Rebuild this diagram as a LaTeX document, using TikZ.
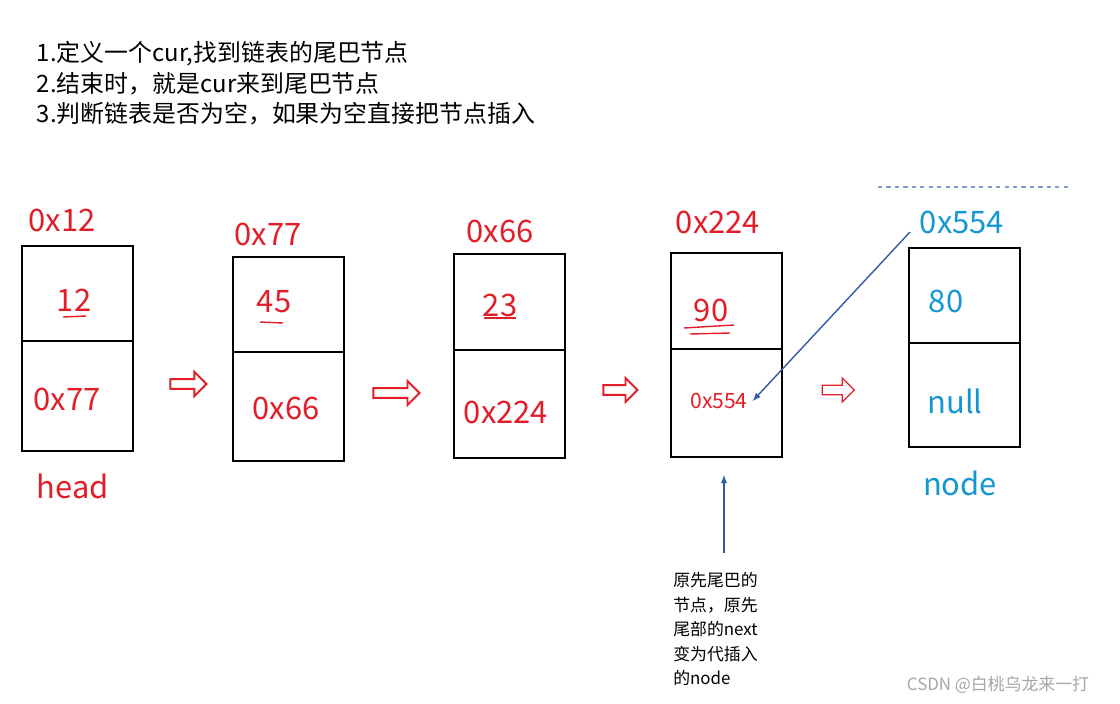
\documentclass[tikz,border=0pt]{standalone}
\usepackage{fontspec}
\setmainfont{Noto Sans CJK SC}
\usetikzlibrary{shapes.arrows}
\definecolor{lred}{RGB}{225,30,40}
\definecolor{lblue}{RGB}{20,150,210}
\definecolor{arrblue}{RGB}{50,90,170}
\tikzset{
  cell/.style={draw,line width=1.3pt,minimum width=2.75cm,inner sep=0pt},
  addr/.style={text=lred,font=\fontsize{22}{22}\selectfont},
  step text/.style={anchor=west,font=\fontsize{17}{17}\selectfont},
  hollow/.style={single arrow,draw=lred,line width=1.4pt,minimum height=0.9cm,minimum width=0.6cm,single arrow head extend=0.12cm,single arrow head indent=0pt,inner sep=0.06cm},
  pointer/.style={draw=arrblue,line width=1pt,-latex}
}
\begin{document}
\begin{tikzpicture}[x=0.025cm,y=-0.025cm]
\useasboundingbox (0,0) rectangle (1120,704);
% steps
\node[step text] (s1) at (32,54) {1.定义一个cur,找到链表的尾巴节点};
\node[step text] (s2) at (32,84) {2.结束时，就是cur来到尾巴节点};
\node[step text] (s3) at (32,114) {3.判断链表是否为空，如果为空直接把节点插入};
% boxes
\foreach \x/\ta/\tb/\tc in {22/246/341/451, 233/257/352/461, 454/254/350/458,
                            671/253/349/457, 909/248/343/447}{
  \draw[line width=1.3pt] (\x,\ta) rectangle (\x+111,\tc);
  \draw[line width=1.3pt] (\x,\tb) -- (\x+111,\tb);
}
\node[addr] (la) at (62,220) {0x12};
\node[addr] (lb) at (268,234) {0x77};
\node[addr] (lc) at (500,231) {0x66};
\node[addr] (ld) at (718,222) {0x224};
\node[addr,text=lblue] (le) at (962,222) {0x554};
\node[addr] (va) at (74,300) {12};
\node[addr] (vb) at (274,302) {45};
\node[addr] (vc) at (500,305) {23};
\node[addr] (vd) at (711,310) {90};
\node[addr,text=lblue] (ve) at (946,301) {80};
\node[addr] (pa) at (67,399) {0x77};
\node[addr] (pb) at (286,408) {0x66};
\node[addr] (pc) at (506,412) {0x224};
\node[text=lred,font=\fontsize{15}{15}\selectfont] (pd) at (719,401) {0x554};
\node[addr,text=lblue] (pe) at (955,401) {null};
\node[addr] (hd) at (73,486) {head};
\node[addr,text=lblue] (nd) at (960,483) {node};
% underlines
\draw[lred,line width=1pt] (63,317) -- (86,316);
\draw[lred,line width=1pt] (260,322) -- (283,323);
\draw[lred,line width=1pt] (484,318) -- (516,318);
\draw[lred,line width=1pt] (684,328) -- (734,325);
\draw[lred,line width=1pt] (690,334) -- (730,333);
% hollow arrows
\node[hollow] (h1) at (186,384) {};
\node[hollow,minimum height=1.15cm] (h2) at (394,393) {};
\node[hollow,minimum height=0.85cm] (h3) at (618,390) {};
\node[hollow,line width=0.9pt,minimum height=0.8cm] (h4) at (836,390) {};
% pointers
\coordinate (q1) at (910,232);
\coordinate (q2) at (724,553);
\coordinate (q3) at (724,475);
\draw[pointer] (q1) -- (pd.east);
\draw[pointer] (q2) -- (q3);
\draw[dashed,color=arrblue!60,line width=0.8pt] (878,187) -- (1072,187);
% note
\node[anchor=north west,align=left,font=\fontsize{12}{17.5}\selectfont,inner sep=0pt] (note) at (673,572) {原先尾巴的\\节点，原先\\尾部的next\\变为代插入\\的node};
\node[text=gray!70,font=\fontsize{12}{12}\selectfont] (wm) at (998,685) {CSDN @白桃乌龙来一打};
\end{tikzpicture}
\end{document}
